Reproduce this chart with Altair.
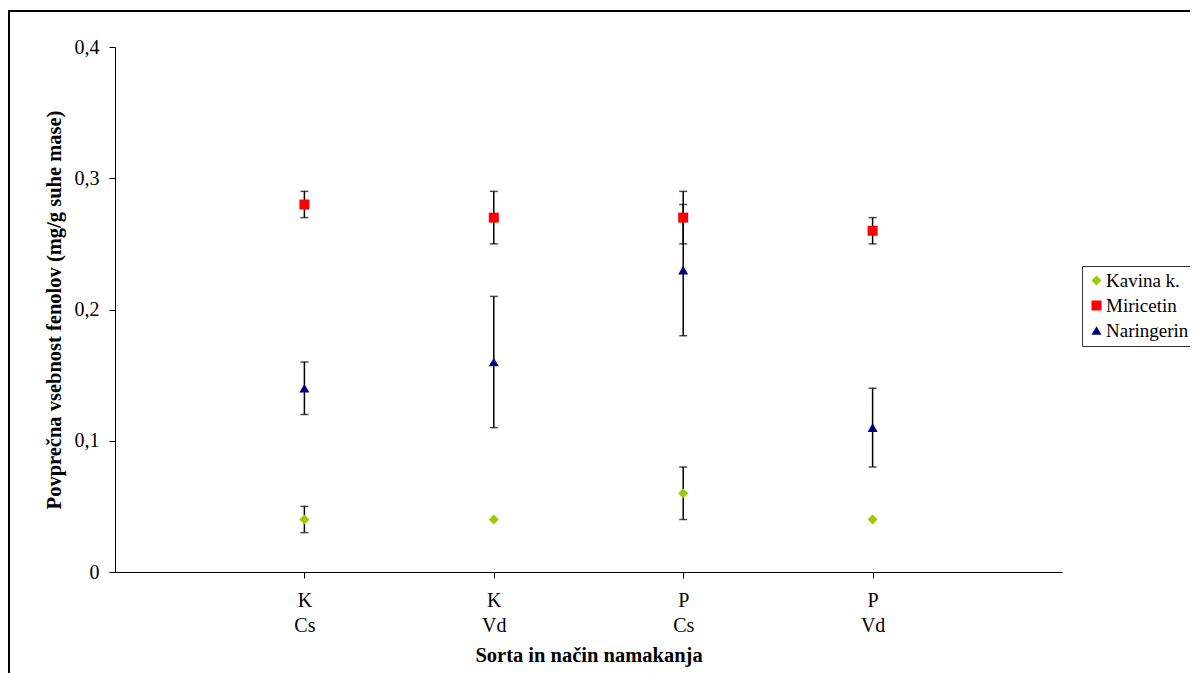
import altair as alt
import pandas as pd

# ---- data ----
cat_top = ["K", "K", "P", "P"]
cat_bottom = ["Cs", "Vd", "Cs", "Vd"]
series = ["Kavina k.", "Miricetin", "Naringerin"]
kavina = [0.04, 0.04, 0.06, 0.04]
kavina_lo = [0.03, None, 0.04, None]
kavina_hi = [0.05, None, 0.08, None]
miricetin = [0.28, 0.27, 0.27, 0.26]
miricetin_lo = [0.27, 0.25, 0.25, 0.25]
miricetin_hi = [0.29, 0.29, 0.29, 0.27]
naringerin = [0.14, 0.16, 0.23, 0.11]
naringerin_lo = [0.12, 0.11, 0.18, 0.08]
naringerin_hi = [0.16, 0.21, 0.28, 0.14]
colors = ["#99CC00", "#FF0000", "#000080"]
shapes = ["diamond", "square", "triangle-up"]

rows = []
for name, vals, lo, hi in [
    ("Kavina k.", kavina, kavina_lo, kavina_hi),
    ("Miricetin", miricetin, miricetin_lo, miricetin_hi),
    ("Naringerin", naringerin, naringerin_lo, naringerin_hi),
]:
    for i in range(4):
        rows.append({"x": i + 1, "series": name, "value": vals[i], "lo": lo[i], "hi": hi[i]})
df = pd.DataFrame(rows)
err = df.dropna(subset=["lo", "hi"])

label_arr = "[" + ",".join("['%s','%s']" % (a, b) for a, b in zip(cat_top, cat_bottom)) + "]"

FONT = "Liberation Serif"

X = alt.X(
    "x:Q",
    scale=alt.Scale(domain=[0, 5], nice=False, zero=False),
    axis=alt.Axis(
        values=[1, 2, 3, 4],
        labelExpr=label_arr + "[datum.value - 1]",
        title="Sorta in način namakanja",
        grid=False,
        tickSize=6,
        labelPadding=12,
        labelLineHeight=25,
        titlePadding=10,
        labelFlush=False,
        labelFont=FONT,
        titleFont=FONT,
    ),
)
YSCALE = alt.Scale(domain=[0, 0.4], nice=False)
Y = alt.Y(
    "value:Q",
    scale=YSCALE,
    axis=alt.Axis(
        values=[0, 0.1, 0.2, 0.3, 0.4],
        labelExpr="datum.value == 0 ? '0' : replace(format(datum.value, '.1f'), '.', ',')",
        title="Povprečna vsebnost fenolov (mg/g suhe mase)",
        grid=False,
        tickSize=6,
        labelPadding=10,
        titlePadding=10,
        labelFont=FONT,
        titleFont=FONT,
    ),
)

frame_data = pd.DataFrame({"a": [0]})
frame_left = alt.Chart(frame_data).mark_rule(color="black", strokeWidth=2).encode(
    x=alt.value(-106), y=alt.value(-36), y2=alt.value(700)
)
frame_top = alt.Chart(frame_data).mark_rule(color="black", strokeWidth=2).encode(
    x=alt.value(-107), x2=alt.value(1200), y=alt.value(-36)
)

bars = alt.Chart(err).mark_rule(color="black", strokeWidth=1.5).encode(
    x=X, y=alt.Y("lo:Q", scale=YSCALE), y2="hi:Q"
)
cap_lo = alt.Chart(err).mark_tick(color="black", orient="horizontal", size=8, thickness=1.5).encode(
    x=X, y=alt.Y("lo:Q", scale=YSCALE)
)
cap_hi = alt.Chart(err).mark_tick(color="black", orient="horizontal", size=8, thickness=1.5).encode(
    x=X, y=alt.Y("hi:Q", scale=YSCALE)
)

points = alt.Chart(df).mark_point(filled=True, opacity=1, size=100).encode(
    x=X,
    y=Y,
    color=alt.Color(
        "series:N",
        scale=alt.Scale(domain=series, range=colors),
        legend=alt.Legend(
            title=None,
            orient="none",
            legendX=967,
            legendY=219,
            strokeColor="#333333",
            padding=5,
            rowPadding=5,
            labelFont=FONT,
            labelFontSize=19,
            labelColor="black",
            symbolSize=100,
            labelOffset=0,
            symbolStrokeWidth=0,
            labelLimit=300,
        ),
    ),
    shape=alt.Shape("series:N", scale=alt.Scale(domain=series, range=shapes)),
)

chart = (
    alt.layer(frame_left, frame_top, bars, cap_lo, cap_hi, points)
    .properties(
        width=947,
        height=525,
        autosize=alt.AutoSizeParams(type="none"),
        padding={"left": 107, "top": 39, "right": 128, "bottom": 101},
    )
    .configure(font=FONT)
    .configure_view(strokeWidth=0)
    .configure_legend(labelFont=FONT)
    .configure_axis(
        domainColor="black",
        tickColor="black",
        labelColor="black",
        titleColor="black",
        labelFont=FONT,
        titleFont=FONT,
        labelFontSize=20,
        titleFontSize=20.5,
        titleFontWeight="bold",
    )
)

chart.save("out.html", embed_options={"renderer": "svg", "actions": False})
